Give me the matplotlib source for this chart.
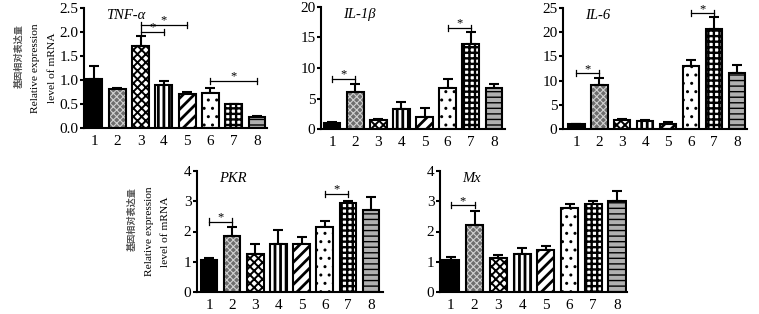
import numpy as np
import matplotlib.pyplot as plt

plt.rcParams['font.family'] = ['Liberation Serif', 'Noto Sans CJK SC']
plt.rcParams['hatch.linewidth'] = 1.2

groups = ['1', '2', '3', '4', '5', '6', '7', '8']

tnf = [1.02, 0.82, 1.70, 0.90, 0.71, 0.73, 0.50, 0.23]
tnf_err = [0.27, 0.01, 0.21, 0.08, 0.03, 0.10, 0.01, 0.03]
tnf_sig = [(3, 4, 2.0), (3, 5, 2.15), (6, 8, 0.98)]

il1b = [1.0, 6.1, 1.4, 3.2, 2.0, 6.8, 14.0, 6.7]
il1b_err = [0.15, 1.3, 0.2, 1.3, 1.5, 1.4, 1.9, 0.7]
il1b_sig = [(1, 2, 8.2), (6, 7, 16.6)]

il6 = [1.0, 9.1, 1.85, 1.75, 1.1, 13.1, 20.6, 11.5]
il6_err = [0.1, 1.4, 0.15, 0.1, 0.3, 1.1, 2.5, 1.7]
il6_sig = [(1, 2, 11.5), (6, 7, 23.9)]

pkr = [1.05, 1.86, 1.26, 1.60, 1.60, 2.15, 2.93, 2.72]
pkr_err = [0.07, 0.29, 0.34, 0.44, 0.21, 0.20, 0.08, 0.41]
pkr_sig = [(1, 2, 2.33), (6, 7, 3.24)]

mx = [1.07, 2.20, 1.13, 1.26, 1.38, 2.79, 2.90, 3.01]
mx_err = [0.09, 0.48, 0.08, 0.21, 0.14, 0.13, 0.11, 0.32]
mx_sig = [(1, 2, 2.87)]

# face colour, hatch, hatch colour, hatch line width for the 8 groups
styles = [('black', '', 'black', 1.0),
          ('#6e6e6e', 'xxxxx', '#d0d0d0', 0.8),
          ('white', 'xxxx', 'black', 1.4),
          ('white', '|||', 'black', 2.0),
          ('white', '///', 'black', 2.0),
          ('white', '..', 'black', 1.0),
          ('white', '+++', 'black', 1.7),
          ('#b0b0b0', '---', 'black', 1.0)]

W, H = 759, 314
fig = plt.figure(figsize=(W / 100, H / 100), dpi=100)


def panel(left, right, top, bottom, xlim, vals, errs, sigs, ymax, ystep, title,
          fmt='%d', ylabel=False):
    ax = fig.add_axes([left / W, 1 - bottom / H, (right - left) / W, (bottom - top) / H])
    x = np.arange(1, 9)
    for i in range(8):
        fc, h, hc, hlw = styles[i]
        b = ax.bar(x[i], vals[i], width=0.72, color=fc, edgecolor=hc, hatch=h,
                   linewidth=0, zorder=2)
        if hasattr(b[0], 'set_hatch_linewidth'):
            b[0].set_hatch_linewidth(hlw)
        ax.bar(x[i], vals[i], width=0.72, fill=False, edgecolor='black', linewidth=1.5, zorder=3)
    ax.errorbar(x, vals, yerr=[np.zeros(8), errs], fmt='none', ecolor='black',
                elinewidth=1.5, capsize=3.5, capthick=1.5, zorder=1)
    cap = ymax * 0.025
    for a, b, y in sigs:
        ax.plot([a, b], [y, y], color='black', lw=0.9)
        ax.plot([a, a], [y - cap, y + cap], color='black', lw=0.9)
        ax.plot([b, b], [y - cap, y + cap], color='black', lw=0.9)
        ax.text((a + b) / 2, y - cap * 0.6, '*', ha='center', va='bottom', fontsize=9)
    ax.set_xlim(*xlim)
    ax.set_ylim(0, ymax)
    ax.set_xticks(x)
    ax.set_xticklabels(groups)
    ticks = np.arange(0, ymax + ystep / 2, ystep)
    ax.set_yticks(ticks)
    ax.set_yticklabels([fmt % t for t in ticks])
    ax.spines['top'].set_visible(False)
    ax.spines['right'].set_visible(False)
    ax.spines['left'].set_linewidth(1.5)
    ax.spines['bottom'].set_linewidth(1.5)
    ax.tick_params(axis='x', length=0, pad=5, labelsize=11)
    ax.tick_params(axis='y', length=3, width=1.5, direction='out', pad=1, labelsize=11)
    ax.text(0.12, 0.99, title, transform=ax.transAxes, ha='left', va='top',
            fontsize=10.5, style='italic')
    if ylabel:
        yc = (top + bottom) / 2
        fig.text((left - 65) / W, 1 - (yc - 12) / H, '基因相对表达量', rotation=90,
                 ha='center', va='center', fontsize=6.6, color='#555555',
                 family='Noto Sans CJK SC', weight='bold')
        fig.text((left - 48) / W, 1 - yc / H, 'Relative expression', rotation=90,
                 ha='center', va='center', fontsize=8.2)
        fig.text((left - 31) / W, 1 - yc / H, 'level of mRNA', rotation=90,
                 ha='center', va='center', fontsize=8.2)
    return ax


panel(84, 267, 8, 128, (0.57, 8.43), tnf, tnf_err, tnf_sig, 2.5, 0.5, 'TNF-α',
      fmt='%.1f', ylabel=True)
panel(321, 505, 7, 129, (0.52, 8.48), il1b, il1b_err, il1b_sig, 20, 5, 'IL-1β')
panel(563, 747, 8, 129, (0.42, 8.44), il6, il6_err, il6_sig, 25, 5, 'IL-6')
panel(197, 383, 171, 292, (0.48, 8.52), pkr, pkr_err, pkr_sig, 4, 1, 'PKR', ylabel=True)
panel(440, 627, 171, 292, (0.54, 8.42), mx, mx_err, mx_sig, 4, 1, 'Mx')

fig.savefig('out.png', dpi=100)
